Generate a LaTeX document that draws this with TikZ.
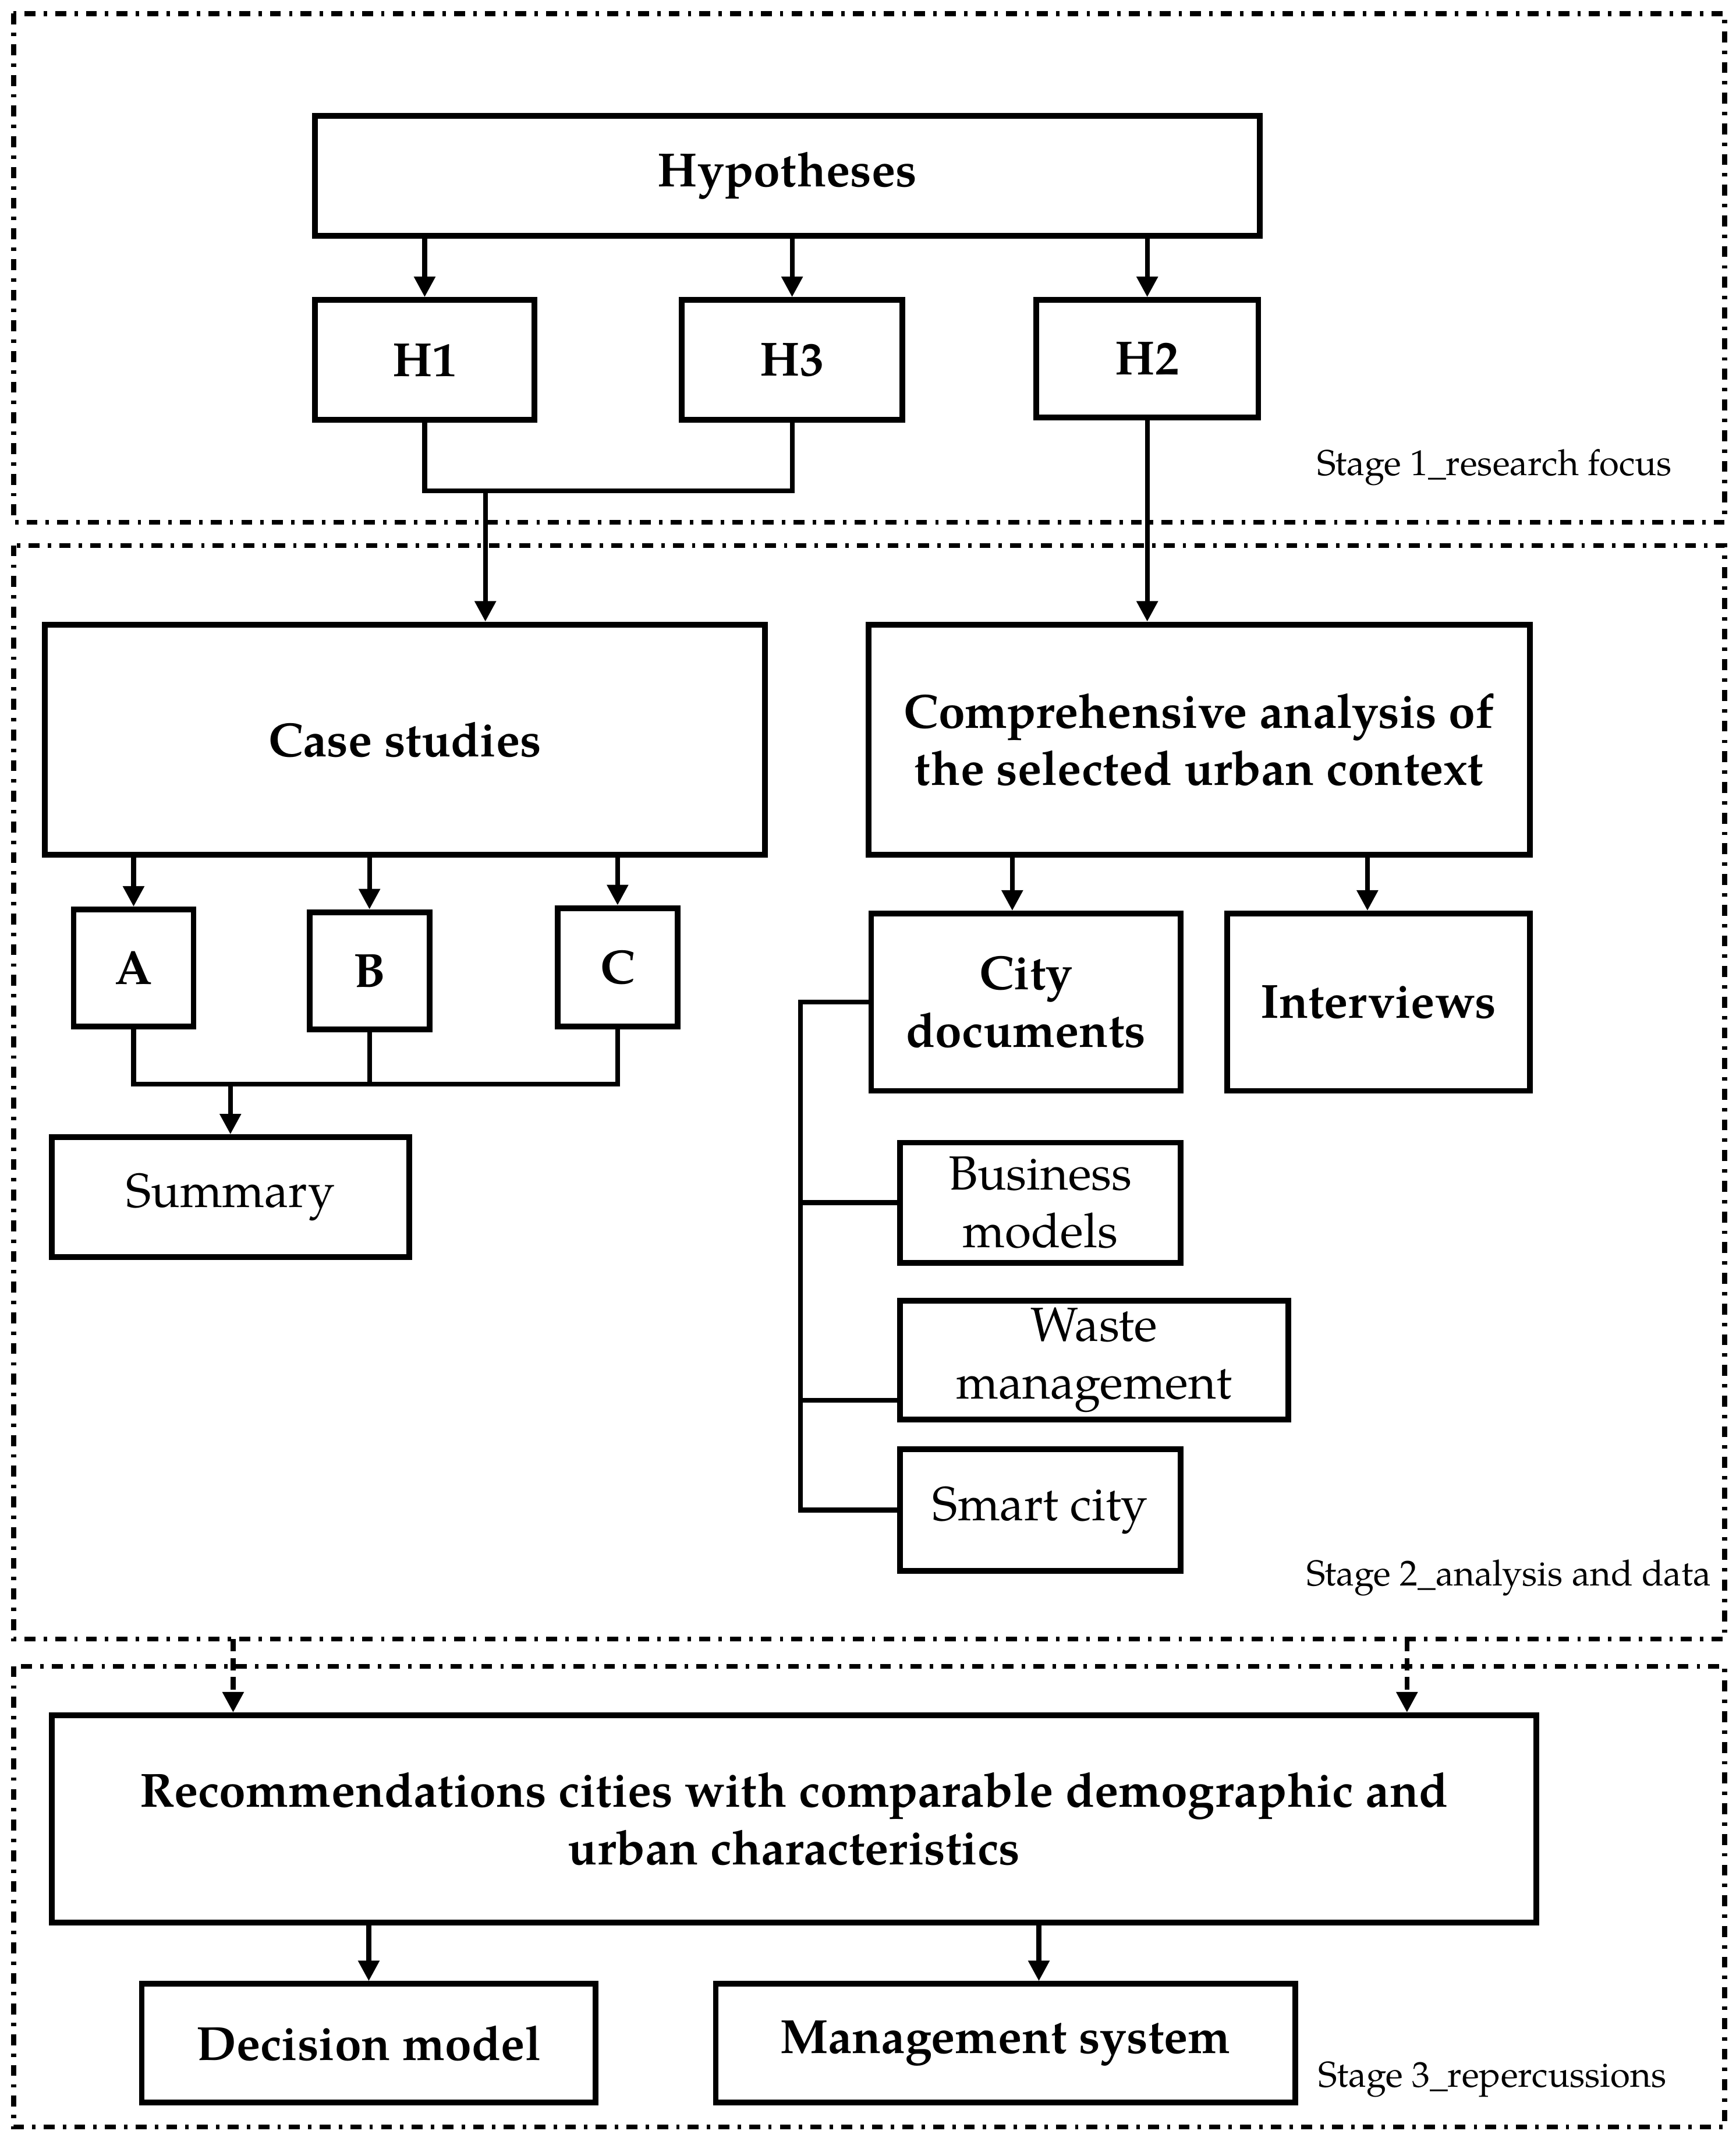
\documentclass[tikz,border=0pt]{standalone}
\usepackage{fontspec}
\setmainfont{TeX Gyre Pagella}
\usetikzlibrary{arrows.meta, calc}
\tikzset{
  box/.style={rectangle, draw=black, line width=1.2pt, inner sep=1pt,
              align=center, font=\fontsize{10}{12}\selectfont},
  boldbox/.style={box, font=\fontsize{10}{12}\selectfont\bfseries},
  conn/.style={line width=1pt},
  arr/.style={line width=1pt, -{Triangle[length=1.5mm, width=1.5mm]}},
  darr/.style={arr, dash pattern=on 0.9mm off 0.5mm},
  stageframe/.style={line width=1pt,
              dash pattern=on 0.8mm off 0.6mm on 0.25mm off 0.6mm},
  stagelabel/.style={anchor=east, inner sep=0pt, font=\fontsize{7.5}{9}\selectfont},
}

\begin{document}
\begin{tikzpicture}
    \useasboundingbox (0,0) rectangle (12.73,-15.68);
    %% stage frames and their labels
    \draw[stageframe] (0.10,-0.10) rectangle (12.65,-3.83);
    \draw[stageframe] (0.10,-4.00) rectangle (12.65,-12.02);
    \draw[stageframe] (0.10,-12.22) rectangle (12.65,-15.60);
    \node[stagelabel] (lab1) at (12.27,-3.43) {Stage 1\_research focus};
    \node[stagelabel] (lab2) at (12.56,-11.57) {Stage 2\_analysis and data};
    \node[stagelabel] (lab3) at (12.23,-15.25) {Stage 3\_repercussions};
    %% Stage 1: hypotheses
    \node[boldbox, minimum width=6.93cm, minimum height=0.88cm] (hyp) at (5.775,-1.29) {Hypotheses};
    \node[boldbox, minimum width=1.61cm, minimum height=0.88cm] (h1) at (3.115,-2.64) {H1};
    \node[boldbox, minimum width=1.62cm, minimum height=0.88cm] (h3) at (5.81,-2.64) {H3};
    \node[boldbox, minimum width=1.63cm, minimum height=0.86cm] (h2) at (8.415,-2.63) {H2};
    %% Stage 2: analysis and data
    \node[boldbox, minimum width=5.28cm, minimum height=1.69cm] (cases) at (2.97,-5.425) {Case studies};
    \node[boldbox, minimum width=4.85cm, minimum height=1.69cm] (anal) at (8.795,-5.425)
      {Comprehensive analysis of\\the selected urban context};
    \node[boldbox, minimum width=0.88cm, minimum height=0.86cm] (ca) at (0.98,-7.10) {A};
    \node[boldbox, minimum width=0.88cm, minimum height=0.86cm] (cb) at (2.71,-7.12) {B};
    \node[boldbox, minimum width=0.88cm, minimum height=0.87cm] (cc) at (4.53,-7.095) {C};
    \node[box, minimum width=2.62cm, minimum height=0.88cm] (summ) at (1.69,-8.78) {Summary};
    \node[boldbox, minimum width=2.27cm, minimum height=1.30cm] (citydoc) at (7.525,-7.35) {City\\documents};
    \node[boldbox, minimum width=2.22cm, minimum height=1.30cm] (interv) at (10.11,-7.35) {Interviews};
    \node[box, minimum width=2.06cm, minimum height=0.88cm] (busmod) at (7.63,-8.82) {Business\\models};
    \node[box, minimum width=2.85cm, minimum height=0.87cm] (waste) at (8.025,-9.975) {Waste\\management};
    \node[box, minimum width=2.06cm, minimum height=0.89cm] (smart) at (7.63,-11.075) {Smart city};
    %% Stage 3: repercussions
    \node[boldbox, minimum width=10.89cm, minimum height=1.52cm] (recom) at (5.825,-13.34)
      {Recommendations cities with comparable demographic and\\urban characteristics};
    \node[boldbox, minimum width=3.33cm, minimum height=0.87cm] (decis) at (2.705,-14.985) {Decision model};
    \node[boldbox, minimum width=4.25cm, minimum height=0.87cm] (mgmt) at (7.375,-14.985) {Management system};

    %% connectors, stage 1
    \foreach \h in {h1,h3,h2}
      \draw[arr] (\h.north |- hyp.south) -- (\h.north);
    \coordinate (hjoin) at (3.56,-3.60);
    \draw[conn] (h1.south) |- (hjoin) -| (h3.south);
    \draw[arr] (hjoin) -- (hjoin |- cases.north);
    \draw[arr] (h2.south) -- (h2.south |- anal.north);
    %% connectors, case studies
    \foreach \c in {ca,cb,cc}
      \draw[arr] (\c.north |- cases.south) -- (\c.north);
    \coordinate (abcjoin) at (1.69,-7.95);
    \draw[conn] (ca.south) |- (abcjoin) -| (cc.south);
    \draw[conn] (cb.south) -- (cb.south |- abcjoin);
    \draw[arr] (abcjoin) -- (summ.north);
    %% connectors, urban context
    \draw[arr] ([xshift=-1mm]citydoc.north |- anal.south) -- ([xshift=-1mm]citydoc.north);
    \draw[arr] ([xshift=-0.8mm]interv.north |- anal.south) -- ([xshift=-0.8mm]interv.north);
    \coordinate (spine) at (5.87,-7.35);
    \draw[conn] (citydoc.west) -- (spine) |- (smart.west);
    \draw[conn] (spine |- busmod.west) -- (busmod.west);
    \draw[conn] (spine |- 0,-10.27) -- (waste.west |- 0,-10.27);
    %% connectors, stage 3
    \coordinate (d1) at (1.71,-12.02);
    \coordinate (d2) at (10.32,-12.02);
    \draw[darr] (d1) -- (d1 |- recom.north);
    \draw[darr] (d2) -- (d2 |- recom.north);
    \draw[arr] (decis.north |- recom.south) -- (decis.north);
    \draw[arr] ([xshift=2.45mm]mgmt.north |- recom.south) -- ([xshift=2.45mm]mgmt.north);
\end{tikzpicture}
\end{document}
